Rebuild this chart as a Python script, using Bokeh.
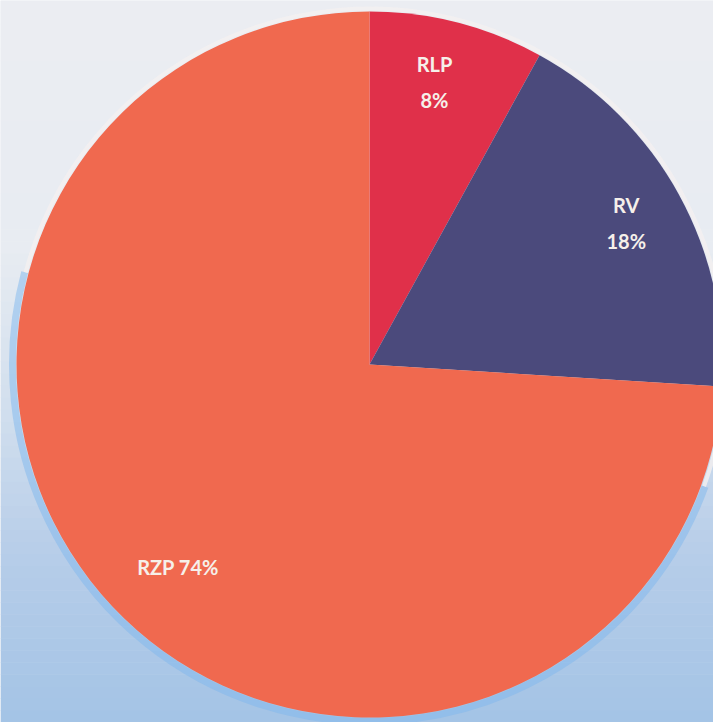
import math
import numpy as np
from bokeh.plotting import figure
from bokeh.models import ColumnDataSource, Range1d
from bokeh.core.properties import value
from bokeh.embed import file_html
from bokeh.resources import INLINE

# ---- data ----
categories = ["RLP", "RV", "RZP"]
shares = [8, 18, 74]
label_lines = ["RLP\n8%", "RV\n18%", "RZP 74%"]

# ---- style ----
slice_colors = ["#e0304a", "#4b4a7c", "#f0694f"]
label_radius = [0.82, 0.83, 0.79]
label_angle_shift = [0.025, 0.0, 0.06]

W, H = 713, 722
cx, cy, R = 369, -364, 353

p = figure(width=W, height=H, x_range=Range1d(0, W), y_range=Range1d(-H, 0),
           output_backend="svg", toolbar_location=None, min_border=0)
p.axis.visible = False
p.grid.visible = False
p.outline_line_color = None
p.background_fill_color = "#ecedf1"
p.border_fill_color = "#ecedf1"

# background gradient (scan tint: white at top, light blue at bottom)
stops_y = [0, 250, 420, 560, 722]
stops_c = [(236, 238, 242), (232, 236, 242), (208, 222, 238), (182, 205, 233), (164, 196, 230)]
n = 60
ys = np.linspace(0, 722, n + 1)
cols = []
for i in range(n):
    ym = (ys[i] + ys[i + 1]) / 2
    rgb = [np.interp(ym, stops_y, [c[k] for c in stops_c]) for k in range(3)]
    cols.append("#%02x%02x%02x" % tuple(int(v) for v in rgb))
p.quad(left=0, right=720, top=-ys[:-1], bottom=-ys[1:] - 0.5, fill_color=cols, line_color=None)

# soft blue halo around the lower part of the pie
p.arc(x=[cx], y=[cy], radius=R + 4, start_angle=math.radians(-20), end_angle=math.radians(165),
      direction="clock", line_color="#7fb8ee", line_width=7, line_alpha=0.5)
p.arc(x=[cx], y=[cy], radius=R + 3, start_angle=math.radians(165), end_angle=math.radians(-20),
      direction="clock", line_color="#f4f0f0", line_width=4, line_alpha=0.8)

total = sum(shares)
cum = np.cumsum([0] + shares) / total
start = [math.pi / 2 - 2 * math.pi * cum[i] for i in range(len(shares))]
end = [math.pi / 2 - 2 * math.pi * cum[i + 1] for i in range(len(shares))]
src = ColumnDataSource(dict(cat=categories, start=start, end=end, color=slice_colors))
p.wedge(x=cx, y=cy, radius=R, start_angle="start", end_angle="end", direction="clock",
        fill_color="color", line_color=None, source=src)

# labels
lx, ly = [], []
for i in range(len(shares)):
    mid = (start[i] + end[i]) / 2 + label_angle_shift[i]
    lx.append(cx + label_radius[i] * R * math.cos(mid))
    ly.append(cy + label_radius[i] * R * math.sin(mid))
p.text(x=lx, y=ly, text=label_lines, text_align="center", text_baseline="middle",
       text_color="#f6f0ea", text_font=value("Lato"), text_font_style="bold",
       text_font_size="20px", text_line_height=1.5)

open("out.html", "w").write(file_html(p, INLINE))
